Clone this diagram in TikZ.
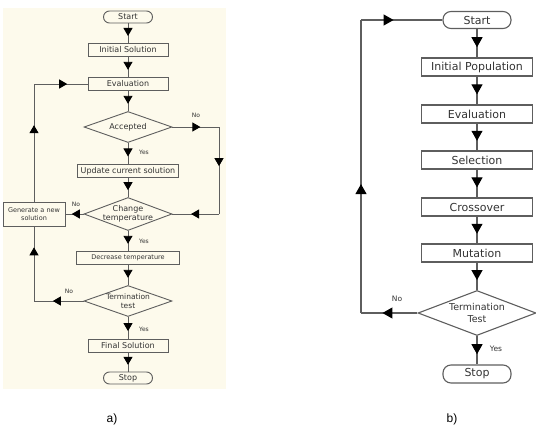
\documentclass[tikz,border=0pt]{standalone}
\usepackage{fontspec}
\setmainfont{DejaVu Sans}
\newfontfamily\captionfont{Liberation Sans}
\usetikzlibrary{arrows.meta, shapes.geometric, decorations.markings}
\definecolor{linegray}{HTML}{5E5E5E}
\definecolor{textgray}{HTML}{333333}
\definecolor{panelbeige}{HTML}{FDFAEC}

\begin{document}
\begin{tikzpicture}[x=1pt, y=-1pt,
    every node/.style={text=textgray, inner sep=0pt},
    proc/.style={draw=linegray, rectangle},
    term/.style={draw=linegray, rectangle, rounded corners=6pt},
    decision/.style={draw=linegray, diamond},
    flowA/.style={draw=linegray, line width=0.9pt, postaction={decorate},
        decoration={markings, mark=at position #1 with {\arrow[black]{Triangle[length=8pt, width=9pt]}}}},
    flowA/.default=0.64,
    flowB/.style={draw=linegray, line width=1.1pt, postaction={decorate},
        decoration={markings, mark=at position #1 with {\arrow[black]{Triangle[length=10pt, width=11pt]}}}},
    flowB/.default=0.64,
    small/.style={font=\fontsize{8}{9}\selectfont},
    dtext/.style={font=\fontsize{7.5}{8.5}\selectfont},
    tiny/.style={font=\fontsize{6}{7}\selectfont},
    big/.style={font=\fontsize{11}{13}\selectfont},
    mid/.style={font=\fontsize{9.5}{11.5}\selectfont}]
    \useasboundingbox (0,0) rectangle (536,434);

    % (a) simulated annealing panel
    \fill[panelbeige] (3,8) rectangle (226,389);
    \begin{scope}[line width=0.9pt, small]
    \node[term, minimum width=49, minimum height=12] (startA) at (128,17) {Start};
    \node[proc, minimum width=80, minimum height=13] (initA) at (128,50) {Initial Solution};
    \node[proc, minimum width=80, minimum height=13] (evalA) at (128,84) {Evaluation};
    \node[decision, minimum width=88, minimum height=31, label={[small]center:Accepted}] (accA) at (128,127) {};
    \node[proc, minimum width=101, minimum height=13] (updA) at (128,171) {Update current solution};
    \node[decision, minimum width=88, minimum height=33, label={[small, align=center]center:Change\\temperature}] (chgA) at (128,214) {};
    \node[proc, minimum width=62, minimum height=24, align=center, font=\fontsize{6.5}{8}\selectfont] (genA) at (34,214) {Generate a new\\solution};
    \node[proc, minimum width=103, minimum height=13, font=\fontsize{6.5}{8}\selectfont] (decA) at (128,258) {Decrease temperature};
    \node[decision, minimum width=88, minimum height=31, label={[dtext, align=center]center:Termination\\test}] (termA) at (128,301) {};
    \node[proc, minimum width=80, minimum height=13] (finA) at (128,346) {Final Solution};
    \node[term, minimum width=49, minimum height=12] (stopA) at (128,378) {Stop};
    \end{scope}

    \coordinate (accR) at (219,127);
    \coordinate (chgR) at (219,214);
    \coordinate (loopTopA) at (34,84);
    \coordinate (loopBotA) at (34,301);

    \draw[flowA] (startA) -- (initA);
    \draw[flowA] (initA) -- (evalA);
    \draw[flowA] (evalA) -- (accA);
    \draw[flowA] (accA) -- (updA);
    \draw[flowA] (updA) -- (chgA);
    \draw[flowA] (chgA) -- (decA);
    \draw[flowA] (decA) -- (termA);
    \draw[flowA] (termA) -- (finA);
    \draw[flowA] (finA) -- (stopA);
    \draw[flowA=0.6] (accA.east) -- (accR);
    \draw[flowA=0.45] (accR) -- (chgR);
    \draw[flowA=0.6] (chgR) -- (chgA.east);
    \draw[flowA=0.65] (chgA.west) -- (genA.east);
    \draw[flowA=0.65] (genA.north) -- (loopTopA);
    \draw[flowA=0.62] (loopTopA) -- (evalA.west);
    \draw[flowA=0.62] (termA.west) -- (loopBotA);
    \draw[flowA=0.72] (loopBotA) -- (genA.south);

    \node[tiny] (noAccA) at (196,115) {No};
    \node[tiny] (yesAccA) at (144,152) {Yes};
    \node[tiny] (noChgA) at (76,204) {No};
    \node[tiny] (yesChgA) at (144,241) {Yes};
    \node[tiny] (noTermA) at (69,291) {No};
    \node[tiny] (yesTermA) at (144,329) {Yes};

    % (b) genetic algorithm panel
    \begin{scope}[line width=1.1pt, big]
    \node[term, minimum width=68, minimum height=17, rounded corners=8pt] (startB) at (477,20) {Start};
    \node[proc, minimum width=111, minimum height=18] (initB) at (477,67) {Initial Population};
    \node[proc, minimum width=111, minimum height=18] (evalB) at (477,114) {Evaluation};
    \node[proc, minimum width=111, minimum height=18] (selB) at (477,160) {Selection};
    \node[proc, minimum width=111, minimum height=18] (crossB) at (477,207) {Crossover};
    \node[proc, minimum width=111, minimum height=18] (mutB) at (477,253) {Mutation};
    \node[decision, minimum width=118, minimum height=45, label={[mid, align=center]center:Termination\\Test}] (termB) at (477,313) {};
    \node[term, minimum width=68, minimum height=18, rounded corners=8pt] (stopB) at (477,374) {Stop};
    \end{scope}

    \coordinate (loopBotB) at (361,313);
    \coordinate (loopTopB) at (361,20);

    \draw[flowB] (startB) -- (initB);
    \draw[flowB] (initB) -- (evalB);
    \draw[flowB] (evalB) -- (selB);
    \draw[flowB] (selB) -- (crossB);
    \draw[flowB] (crossB) -- (mutB);
    \draw[flowB] (mutB) -- (termB);
    \draw[flowB] (termB) -- (stopB);
    \draw[flowB=0.62] (termB.west) -- (loopBotB);
    \draw[flowB=0.44] (loopBotB) -- (loopTopB);
    \draw[flowB=0.4] (loopTopB) -- (startB.west);

    \node[font=\fontsize{7.5}{9}\selectfont] (noTermB) at (397,299) {No};
    \node[font=\fontsize{7.5}{9}\selectfont] (yesTermB) at (496,349) {Yes};

    % captions
    \node[font=\captionfont\fontsize{12}{14}\selectfont, text=black] (capA) at (112,419) {a)};
    \node[font=\captionfont\fontsize{12}{14}\selectfont, text=black] (capB) at (452,419) {b)};
\end{tikzpicture}
\end{document}
